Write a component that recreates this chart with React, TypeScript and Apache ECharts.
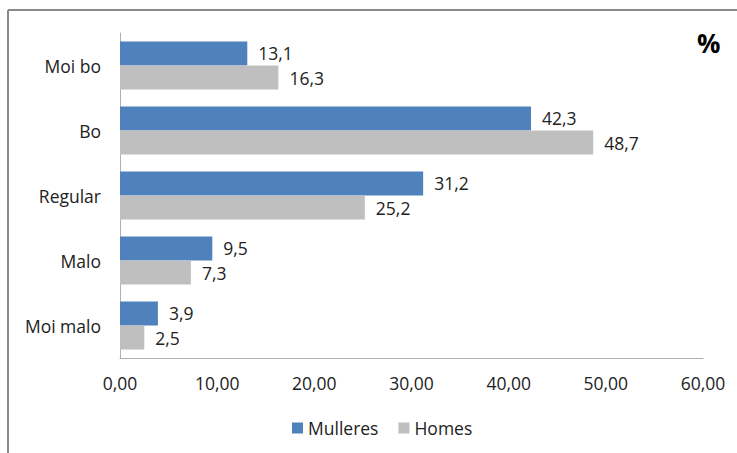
import React, { useEffect, useRef } from "react";
import * as echarts from "echarts";

const categories = ["Moi bo", "Bo", "Regular", "Malo", "Moi malo"];
const mulleres = [13.1, 42.3, 31.2, 9.5, 3.9];
const homes = [16.3, 48.7, 25.2, 7.3, 2.5];
const seriesNames = ["Mulleres", "Homes"];

const FONT = "'Open Sans', Lato, sans-serif";
const FS = 17.5;

export default function App() {
  const ref = useRef<HTMLDivElement>(null);
  useEffect(() => {
    document.body.style.margin = "0";
    const chart = echarts.init(ref.current!, undefined, { renderer: "svg" });
    const labelFmt = (p: any) => Number(p.value).toFixed(1).replace(".", ",");
    chart.setOption({
      animation: false,
      backgroundColor: "#fff",
      textStyle: { fontFamily: FONT },
      grid: { left: 120, right: 34, top: 33, bottom: 95, containLabel: false },
      legend: {
        data: seriesNames,
        left: 287,
        top: 414,
        itemWidth: 11,
        itemHeight: 11,
        itemGap: 20,
        icon: "rect",
        textStyle: { fontSize: FS, color: "#222", fontFamily: FONT },
      },
      xAxis: {
        type: "value",
        min: 0,
        max: 60,
        interval: 10,
        axisLine: { show: true, lineStyle: { color: "#b0b0b0", width: 1 } },
        axisTick: { show: false },
        splitLine: { show: false },
        axisLabel: {
          fontSize: FS,
          color: "#222",
          margin: 16,
          fontFamily: FONT,
          formatter: (v: number) => v.toFixed(2).replace(".", ","),
        },
      },
      yAxis: {
        type: "category",
        data: categories,
        inverse: true,
        axisLine: { show: true, lineStyle: { color: "#b0b0b0", width: 1 } },
        axisTick: { show: false },
        axisLabel: { fontSize: FS, color: "#222", margin: 19, fontFamily: FONT },
      },
      series: [
        {
          name: seriesNames[0],
          type: "bar",
          data: mulleres,
          barGap: "0%",
          barCategoryGap: "26%",
          itemStyle: { color: "#4F81BD" },
          label: { show: true, position: "right", distance: 11, fontSize: FS, color: "#222", fontFamily: FONT, formatter: labelFmt },
        },
        {
          name: seriesNames[1],
          type: "bar",
          data: homes,
          barGap: "0%",
          barCategoryGap: "26%",
          itemStyle: { color: "#BFBFBF" },
          label: { show: true, position: "right", distance: 11, fontSize: FS, color: "#222", fontFamily: FONT, formatter: labelFmt },
        },
      ],
      graphic: [
        { type: "line", shape: { x1: 8, y1: 10, x2: 8, y2: 453 }, style: { stroke: "#8a8a8a", lineWidth: 2 } },
        { type: "line", shape: { x1: 8, y1: 10, x2: 737, y2: 10 }, style: { stroke: "#8a8a8a", lineWidth: 2 } },
        {
          type: "text",
          left: 697,
          top: 30,
          style: { text: "%", fontSize: 26, fontWeight: "bold", fill: "#000", fontFamily: FONT },
        },
      ],
    });
    return () => chart.dispose();
  }, []);
  return <div ref={ref} style={{ position: "absolute", left: 0, top: 0, width: 737, height: 453 }} />;
}
